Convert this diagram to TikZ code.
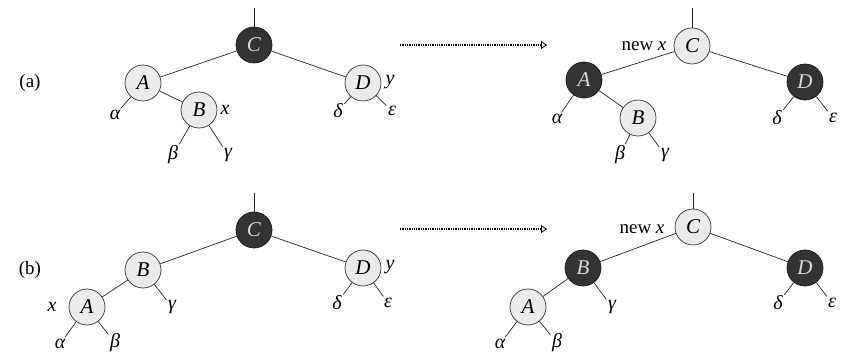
\documentclass[tikz,border=0pt]{standalone}
\usepackage{fontspec}
\setmainfont{Liberation Serif}
\usetikzlibrary{arrows.meta}
\begin{document}
\begin{tikzpicture}[x=1pt,y=-1pt,
  lt/.style={circle,draw=black!80,line width=0.7pt,fill=black!8,minimum size=36pt,inner sep=0pt,font=\fontsize{21}{22}\selectfont\itshape},
  dk/.style={circle,draw=black!90,line width=0.7pt,fill=black!80,text=black!15,minimum size=36pt,inner sep=0pt,font=\fontsize{21}{22}\selectfont\itshape},
  lf/.style={inner sep=1.5pt,font=\fontsize{20}{22}\selectfont\itshape},
  tag/.style={inner sep=1pt,font=\fontsize{19}{21}\selectfont},
  edge/.style={line width=0.7pt,black!85},
  arr/.style={densely dotted,line width=1.3pt,-{Triangle[open,length=6pt,width=8pt,line width=0.8pt]}}
]
\useasboundingbox (0,0) rectangle (841,363);
% ---------- (a) left ----------
\node[tag] (la) at (30,83) {(a)};
\node[dk] (C1) at (254,45) {C};
\node[lt] (A1) at (143,83) {A};
\node[lt] (B1) at (199,110) {B};
\node[lt] (D1) at (363,83) {D};
\coordinate (T1) at (254,8);
\node[lf] (a1) at (115,115) {α};
\node[lf] (b1) at (173,155) {β};
\node[lf] (g1) at (228,155) {γ};
\node[lf] (d1) at (338,111) {δ};
\node[lf] (e1) at (392,111) {ε};
\node[lf] (x1) at (225,110) {x};
\node[lf] (y1) at (390,82) {y};
\draw[edge] (T1) -- (C1);
\draw[edge] (C1) -- (A1);
\draw[edge] (C1) -- (D1);
\draw[edge] (A1) -- (B1);
\draw[edge] (A1) -- (a1);
\draw[edge] (B1) -- (b1);
\draw[edge] (B1) -- (g1);
\draw[edge] (D1) -- (d1);
\draw[edge] (D1) -- (e1);
% arrow (a)
\coordinate (s1) at (400,45);
\coordinate (t1) at (547,45);
\draw[arr] (s1) -- (t1);
% ---------- (a) right ----------
\node[lt] (C2) at (692,46) {C};
\node[dk] (A2) at (584,80) {A};
\node[lt] (B2) at (638,118) {B};
\node[dk] (D2) at (805,82) {D};
\coordinate (T2) at (692,8);
\node[tag] (nx2) at (644,46) {new \textit{x}};
\node[lf] (a2) at (557,119) {α};
\node[lf] (b2) at (620,155) {β};
\node[lf] (g2) at (665,155) {γ};
\node[lf] (d2) at (777,118) {δ};
\node[lf] (e2) at (833,118) {ε};
\draw[edge] (T2) -- (C2);
\draw[edge] (C2) -- (A2);
\draw[edge] (C2) -- (D2);
\draw[edge] (A2) -- (B2);
\draw[edge] (A2) -- (a2);
\draw[edge] (B2) -- (b2);
\draw[edge] (B2) -- (g2);
\draw[edge] (D2) -- (d2);
\draw[edge] (D2) -- (e2);
% ---------- (b) left ----------
\node[tag] (lb) at (30,270) {(b)};
\node[dk] (C3) at (254,230) {C};
\node[lt] (B3) at (143,270) {B};
\node[lt] (A3) at (87,307) {A};
\node[lt] (D3) at (363,268) {D};
\coordinate (T3) at (254,193);
\node[lf] (x3) at (52,307) {x};
\node[lf] (g3) at (172,307) {γ};
\node[lf] (a3) at (60,344) {α};
\node[lf] (b3) at (115,343) {β};
\node[lf] (y3) at (390,267) {y};
\node[lf] (d3) at (337,303) {δ};
\node[lf] (e3) at (388,303) {ε};
\draw[edge] (T3) -- (C3);
\draw[edge] (C3) -- (B3);
\draw[edge] (C3) -- (D3);
\draw[edge] (B3) -- (A3);
\draw[edge] (B3) -- (g3);
\draw[edge] (A3) -- (a3);
\draw[edge] (A3) -- (b3);
\draw[edge] (D3) -- (d3);
\draw[edge] (D3) -- (e3);
% arrow (b)
\coordinate (s2) at (400,229);
\coordinate (t2) at (547,229);
\draw[arr] (s2) -- (t2);
% ---------- (b) right ----------
\node[lt] (C4) at (693,227) {C};
\node[dk] (B4) at (583,268) {B};
\node[lt] (A4) at (528,307) {A};
\node[dk] (D4) at (805,268) {D};
\coordinate (T4) at (693,193);
\node[tag] (nx4) at (642,229) {new \textit{x}};
\node[lf] (g4) at (612,307) {γ};
\node[lf] (a4) at (500,344) {α};
\node[lf] (b4) at (557,343) {β};
\node[lf] (d4) at (778,303) {δ};
\node[lf] (e4) at (832,303) {ε};
\draw[edge] (T4) -- (C4);
\draw[edge] (C4) -- (B4);
\draw[edge] (C4) -- (D4);
\draw[edge] (B4) -- (A4);
\draw[edge] (B4) -- (g4);
\draw[edge] (A4) -- (a4);
\draw[edge] (A4) -- (b4);
\draw[edge] (D4) -- (d4);
\draw[edge] (D4) -- (e4);
\end{tikzpicture}
\end{document}
